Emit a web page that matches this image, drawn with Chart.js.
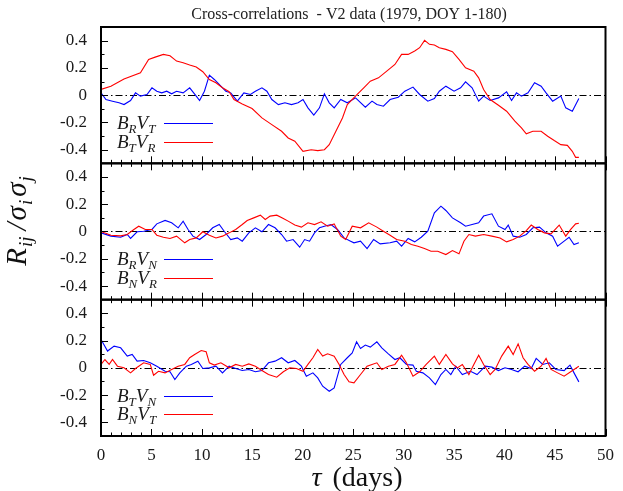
<!DOCTYPE html>
<html lang="en">
<head>
<meta charset="UTF-8">
<title>Cross-correlations - V2 data (1979, DOY 1-180)</title>
<script src="https://cdn.jsdelivr.net/npm/chart.js"></script>
<style>
  html, body { margin: 0; padding: 0; background: #fff; }
  #cc { display: block; }
</style>
</head>
<body>
<canvas id="cc" width="623" height="491"></canvas>
<script>
// lag tau (days), normalised cross-correlation
const brvt = [[0,0.017],[0.49,-0.032],[1.14,-0.044],[1.79,-0.056],[2.28,-0.069],[2.93,-0.039],[3.42,0.017],[3.91,-0.007],[4.56,0.005],[5.05,0.054],[5.53,0.029],[6.02,0.017],[6.51,0.029],[7.0,0.01],[7.49,0.029],[8.14,0.017],[8.79,0.054],[9.44,-0.007],[9.77,-0.039],[10.25,0.029],[10.74,0.147],[11.23,0.115],[11.88,0.066],[12.37,0.029],[12.86,0.017],[13.51,-0.044],[14.16,0.017],[14.81,0.005],[15.3,0.029],[15.95,0.054],[16.44,0.029],[16.93,-0.032],[17.58,-0.069],[18.23,-0.056],[18.88,-0.069],[19.53,-0.056],[20.02,-0.032],[20.51,-0.093],[21.09,-0.147],[21.65,-0.093],[22.14,0.01],[22.62,-0.056],[23.11,-0.093],[23.76,-0.032],[24.41,-0.056],[25.23,-0.02],[26.2,-0.088],[26.86,-0.044],[27.34,-0.069],[27.99,-0.081],[28.65,-0.032],[29.46,-0.015],[30.11,0.029],[30.92,0.059],[31.58,0.005],[32.39,-0.044],[33.04,-0.025],[33.53,0.029],[34.18,0.066],[34.99,0.029],[35.64,0.054],[36.13,0.098],[36.78,0.054],[37.43,-0.044],[37.92,-0.007],[38.57,-0.039],[39.39,-0.02],[40.2,0.025],[40.69,-0.039],[41.18,0.017],[41.67,-0.007],[42.32,0.017],[42.97,0.091],[43.62,0.066],[44.11,0.017],[44.76,-0.044],[45.57,-0.007],[46.06,-0.093],[46.71,-0.118],[47.36,-0.025]];
const btvr = [[0,0.042],[0.98,0.066],[2.28,0.118],[3.91,0.164],[4.72,0.262],[5.37,0.279],[6.18,0.299],[6.84,0.289],[7.49,0.25],[8.14,0.238],[8.79,0.221],[9.44,0.206],[10.09,0.172],[10.74,0.115],[11.39,0.091],[12.04,0.054],[12.7,0.025],[13.18,-0.032],[14.0,-0.064],[14.97,-0.098],[15.95,-0.167],[16.93,-0.216],[17.9,-0.265],[18.55,-0.314],[19.21,-0.338],[20.02,-0.412],[20.83,-0.4],[21.48,-0.407],[22.14,-0.4],[22.62,-0.363],[23.28,-0.265],[23.93,-0.167],[24.41,-0.069],[25.39,0.005],[26.04,0.054],[26.69,0.103],[27.5,0.127],[28.32,0.176],[29.13,0.225],[29.79,0.299],[30.44,0.299],[31.09,0.324],[31.58,0.348],[32.07,0.402],[32.55,0.373],[33.04,0.368],[33.53,0.348],[34.18,0.336],[34.83,0.319],[35.48,0.262],[36.13,0.201],[36.95,0.176],[37.43,0.127],[37.92,0.042],[38.57,-0.032],[39.39,-0.074],[40.2,-0.118],[41.02,-0.191],[41.67,-0.24],[42.15,-0.284],[42.8,-0.265],[43.62,-0.265],[44.27,-0.301],[44.92,-0.333],[45.57,-0.363],[46.22,-0.368],[46.71,-0.412],[47.04,-0.456],[47.36,-0.456]];
const brvn = [[0,-0.01],[0.98,-0.034],[1.95,-0.042],[2.6,-0.022],[2.93,-0.051],[3.58,-0.002],[4.23,0.002],[5.05,0.015],[5.53,0.056],[6.35,0.081],[7.0,0.064],[7.65,0.027],[8.14,0.076],[8.63,0.015],[9.11,-0.034],[9.77,-0.059],[10.42,-0.022],[11.07,0.027],[11.72,0.051],[12.21,0.002],[12.86,-0.059],[13.51,-0.047],[14.0,-0.071],[14.65,-0.01],[15.3,0.027],[15.95,-0.002],[16.6,0.051],[17.25,0.027],[17.9,-0.022],[18.39,-0.071],[19.04,-0.059],[19.69,-0.115],[20.18,-0.059],[20.67,-0.071],[21.16,-0.01],[21.65,0.027],[22.14,0.039],[22.79,0.051],[23.44,0.015],[24.09,-0.047],[24.74,-0.071],[25.07,-0.083],[25.72,-0.071],[26.37,-0.125],[27.02,-0.059],[27.67,-0.091],[28.65,-0.083],[29.3,-0.071],[29.79,-0.108],[30.44,-0.051],[31.09,-0.076],[31.74,-0.042],[32.39,0.002],[33.04,0.137],[33.69,0.186],[34.18,0.154],[34.83,0.1],[35.64,0.064],[36.13,0.039],[36.78,0.051],[37.43,0.064],[37.92,0.113],[38.74,0.13],[39.39,0.039],[40.04,0.015],[40.36,0.047],[40.85,-0.034],[41.5,-0.042],[42.15,-0.022],[42.8,0.027],[43.46,0.032],[44.11,-0.01],[44.76,-0.034],[45.25,-0.108],[45.9,-0.071],[46.39,-0.042],[46.88,-0.096],[47.36,-0.083]];
const bnvr = [[0,0],[0.98,-0.027],[1.95,-0.032],[2.6,-0.022],[3.26,0.015],[3.74,0.039],[4.39,0.015],[5.05,0.015],[5.53,-0.027],[6.18,-0.042],[6.84,-0.051],[7.49,-0.034],[8.3,-0.083],[8.79,-0.059],[9.44,-0.047],[10.09,-0.002],[10.74,-0.027],[11.39,-0.047],[12.04,-0.034],[12.7,-0.01],[13.35,0.015],[14.0,0.051],[14.49,0.081],[15.14,0.1],[15.79,0.12],[16.28,0.088],[16.76,0.113],[17.42,0.12],[18.07,0.096],[18.55,0.076],[19.21,0.047],[19.86,0.032],[20.51,0.064],[21.16,0.051],[21.81,0.071],[22.46,0.039],[23.11,0.056],[23.76,-0.034],[24.25,-0.059],[24.9,0.039],[25.72,0.027],[26.53,0.064],[27.34,0.032],[27.99,0.002],[28.65,-0.027],[29.3,-0.059],[30.11,-0.071],[30.76,-0.096],[31.41,-0.108],[32.06,-0.125],[32.71,-0.145],[33.37,-0.145],[34.18,-0.169],[34.83,-0.14],[35.48,-0.164],[35.97,-0.071],[36.46,-0.022],[37.11,-0.034],[37.92,-0.022],[38.74,-0.034],[39.55,-0.047],[40.2,-0.076],[40.85,-0.059],[41.5,-0.034],[42.15,0.007],[42.64,0.047],[43.29,0.015],[43.95,-0.01],[44.6,-0.017],[45.41,0.047],[46.06,-0.034],[46.55,0.015],[47.04,0.056],[47.36,0.061]];
const btvn = [[0,0.208],[0.65,0.123],[1.3,0.159],[1.95,0.147],[2.6,0.086],[3.09,0.098],[3.58,0.049],[4.23,0.054],[4.88,0.037],[5.53,0.012],[6.35,-0.025],[6.84,-0.029],[7.32,-0.086],[7.81,-0.037],[8.46,0.012],[8.95,0.025],[9.6,0.049],[10.09,-0.005],[10.74,0],[11.39,0.012],[12.04,-0.037],[12.7,0.012],[13.35,-0.005],[14.0,-0.02],[14.65,-0.012],[15.3,-0.029],[15.95,-0.02],[16.6,0.037],[17.25,0.049],[17.9,0.074],[18.55,0.037],[19.21,0.054],[19.86,0.012],[20.35,-0.061],[21.0,-0.037],[21.48,-0.074],[21.97,-0.135],[22.62,-0.172],[23.11,-0.147],[23.76,0.025],[24.41,0.074],[24.9,0.11],[25.33,0.191],[25.72,0.142],[26.2,0.167],[26.69,0.152],[27.34,0.191],[27.83,0.147],[28.48,0.103],[29.13,0.061],[29.62,0.074],[30.27,0.025],[30.92,0.02],[31.25,-0.025],[31.9,-0.037],[32.55,-0.074],[33.14,-0.123],[33.69,-0.049],[34.18,-0.012],[34.67,-0.049],[35.16,0.012],[35.81,-0.049],[36.62,-0.025],[37.27,-0.049],[38.09,0.012],[38.74,0.005],[39.39,-0.02],[40.04,0],[40.69,-0.012],[41.34,-0.029],[41.99,0.012],[42.64,-0.005],[43.13,0.069],[43.78,0.025],[44.43,0.037],[45.08,-0.012],[45.9,-0.02],[46.48,0.02],[46.88,-0.037],[47.36,-0.103]];
const bnvt = [[0,0.025],[0.39,0.061],[0.81,0.025],[1.14,0.061],[1.63,0.012],[2.28,0],[2.93,-0.037],[3.42,-0.005],[4.23,0.037],[4.88,0.025],[5.21,-0.054],[5.7,-0.025],[6.35,-0.037],[7.0,-0.012],[7.65,0.012],[8.3,0.025],[8.79,0.074],[9.28,0.098],[9.93,0.127],[10.42,0.118],[10.74,0.037],[11.23,0.02],[11.88,0.037],[12.7,0],[13.35,0.025],[14.0,0.012],[14.65,0.029],[15.3,0.012],[15.95,-0.02],[16.6,-0.049],[17.42,-0.069],[18.07,-0.029],[18.72,0],[19.37,-0.005],[20.02,-0.025],[20.51,0.025],[21.0,0.074],[21.48,0.135],[21.97,0.086],[22.46,0.103],[23.11,0.086],[23.6,0.025],[24.09,-0.049],[24.58,-0.103],[25.07,-0.11],[25.72,-0.049],[26.37,0.012],[26.86,0.025],[27.34,0.037],[27.83,-0.012],[28.48,0.012],[29.13,0.025],[29.79,0.093],[30.27,0.037],[30.92,-0.061],[31.58,-0.029],[32.23,0.025],[33.04,0.086],[33.53,0.025],[34.18,0.098],[34.83,0.029],[35.32,0],[35.81,0.025],[36.46,-0.049],[36.95,0.025],[37.43,0.093],[37.92,0.025],[38.57,-0.049],[39.06,-0.012],[39.71,0.086],[40.36,0.159],[40.85,0.098],[41.34,0.176],[41.83,0.074],[42.32,0.025],[42.97,-0.025],[43.62,0.012],[44.11,0.069],[44.6,-0.012],[45.25,-0.037],[45.9,-0.061],[46.55,-0.029],[47.36,0.012]];

// subscripts of B and V for each panel's two curves (blue, red)
const panelSubs = [['RT', 'TR'], ['RN', 'NR'], ['TN', 'NT']];
const panelSeries = [[brvt, btvr], [brvn, bnvr], [btvn, bnvt]];
const xTicks = [0, 5, 10, 15, 20, 25, 30, 35, 40, 45, 50];
const yTicks = [-0.4, -0.2, 0, 0.2, 0.4];

const titleText = 'Cross-correlations  - V2 data (1979, DOY 1-180)';
const serif = "'Liberation Serif', 'DejaVu Serif', serif";
const colors = ['#0000ff', '#ff0000'];
const axisIds = ['y1', 'y2', 'y3'];

const datasets = [];
panelSeries.forEach((pair, p) => {
    pair.forEach((series, k) => {
        datasets.push({
            label: 'B' + panelSubs[p][k][0] + 'V' + panelSubs[p][k][1],
            data: series.map(d => ({x: d[0], y: d[1]})),
            yAxisID: axisIds[p],
            borderColor: colors[k],
            borderWidth: 1.1,
            pointRadius: 0,
            tension: 0,
            order: k === 1 ? 0 : 1
        });
    });
});

function panelScale(weight) {
    return {
        type: 'linear',
        position: 'left',
        stack: 'panels',
        stackWeight: 1,
        weight: weight,
        min: -0.5,
        max: 0.5,
        grid: {display: false, drawTicks: false},
        border: {display: false},
        afterBuildTicks: s => { s.ticks = yTicks.map(v => ({value: v})); },
        afterFit: s => { s.width = 101; },
        ticks: {
            padding: 14,
            autoSkip: false,
            color: '#1a1a1a',
            font: {family: serif, size: 17},
            callback: v => String(v)
        }
    };
}

// text pieces [text, font, dy, extra advance] drawn one after another
function richWidth(ctx, parts) {
    let w = 0;
    for (const [t, font, dy, gap] of parts) { ctx.font = font; w += ctx.measureText(t).width + (gap || 0); }
    return w;
}
function drawRich(ctx, parts, x, y) {
    for (const [t, font, dy, gap] of parts) {
        ctx.font = font;
        ctx.fillText(t, x, y + dy);
        x += ctx.measureText(t).width + (gap || 0);
    }
    return x;
}

const decorations = {
    id: 'decorations',
    beforeDatasetsDraw(chart) {
        const ctx = chart.ctx, ca = chart.chartArea;
        ctx.save();
        ctx.strokeStyle = '#000';
        ctx.lineWidth = 1;
        ctx.setLineDash([7, 3, 1.5, 3]);
        axisIds.forEach(id => {
            const y = Math.round(chart.scales[id].getPixelForValue(0)) + 0.5;
            ctx.beginPath();
            ctx.moveTo(ca.left, y);
            ctx.lineTo(ca.right, y);
            ctx.stroke();
        });
        ctx.restore();
    },
    afterDatasetsDraw(chart) {
        const ctx = chart.ctx, ca = chart.chartArea, xs = chart.scales.x;
        ctx.save();
        ctx.strokeStyle = '#000';
        ctx.fillStyle = '#000';

        axisIds.forEach((id, p) => {
            const s = chart.scales[id];
            // tick marks, pointing into the panel
            ctx.lineWidth = 1;
            ctx.beginPath();
            for (let v = 0; v <= 50; v++) {
                const x = Math.round(xs.getPixelForValue(v)) + 0.5;
                const len = v % 5 === 0 ? 7 : 3.5;
                ctx.moveTo(x, s.bottom);
                ctx.lineTo(x, s.bottom - len);
                if (p > 0) {
                    ctx.moveTo(x, s.top);
                    ctx.lineTo(x, s.top + len);
                }
            }
            for (let i = -4; i <= 4; i++) {
                const y = Math.round(s.getPixelForValue(i / 10)) + 0.5;
                const len = i % 2 === 0 ? 7 : 3.5;
                ctx.moveTo(ca.left, y);
                ctx.lineTo(ca.left + len, y);
            }
            ctx.stroke();

            // panel frame
            ctx.lineWidth = 2;
            ctx.strokeRect(ca.left, s.top, ca.right - ca.left, s.bottom - s.top);

            // legend
            [-0.205, -0.342].forEach((row, k) => {
                const y = Math.round(s.getPixelForValue(row)) + 0.5;
                const sub = panelSubs[p][k];
                ctx.fillStyle = '#1a1a1a';
                drawRich(ctx, [
                    ['B', 'italic 19px ' + serif, 0],
                    [sub[0], 'italic 13px ' + serif, 4],
                    ['V', 'italic 19px ' + serif, 0],
                    [sub[1], 'italic 13px ' + serif, 4]
                ], 117, y + 5);
                ctx.strokeStyle = colors[k];
                ctx.lineWidth = 1.1;
                ctx.beginPath();
                ctx.moveTo(164, y);
                ctx.lineTo(213, y);
                ctx.stroke();
                ctx.strokeStyle = '#000';
            });
        });

        // title
        ctx.fillStyle = '#222';
        ctx.font = '16px ' + serif;
        ctx.textAlign = 'center';
        ctx.fillText(titleText, 349, 19);
        ctx.textAlign = 'left';

        // x axis title
        ctx.fillStyle = '#111';
        const xParts = [['\u03c4', 'italic 28px ' + serif, 0, 4], [' (days)', '28px ' + serif, 0]];
        drawRich(ctx, xParts, 357 - richWidth(ctx, xParts) / 2, 486);

        // y axis title
        const yParts = [
            ['R', 'italic 29px ' + serif, 0, 1],
            ['ij', 'italic 19px ' + serif, 6, 6],
            ['/', 'italic 29px ' + serif, 0, 2],
            ['\u03c3', 'italic 29px ' + serif, 0, 1],
            ['i', 'italic 19px ' + serif, 6, 3],
            ['\u03c3', 'italic 29px ' + serif, 0, 1],
            ['j', 'italic 19px ' + serif, 6]
        ];
        ctx.translate(26, 221);
        ctx.rotate(-Math.PI / 2);
        drawRich(ctx, yParts, -richWidth(ctx, yParts) / 2, 0);
        ctx.restore();
    }
};

new Chart(document.getElementById('cc'), {
    type: 'line',
    data: {datasets: datasets},
    options: {
        responsive: false,
        animation: false,
        layout: {padding: {top: 27, right: 11, left: 0, bottom: 0}},
        plugins: {legend: {display: false}, title: {display: false}, tooltip: {enabled: false}},
        scales: {
            x: {
                type: 'linear',
                min: 0,
                max: 50,
                grid: {display: false, drawTicks: false},
                border: {display: false},
                afterBuildTicks: s => { s.ticks = xTicks.map(v => ({value: v})); },
                afterFit: s => { s.height = 55; },
                ticks: {
                    padding: 9,
                    maxRotation: 0,
                    autoSkip: false,
                    color: '#1a1a1a',
                    font: {family: serif, size: 17}
                }
            },
            y1: panelScale(3),
            y2: panelScale(2),
            y3: panelScale(1)
        }
    },
    plugins: [decorations]
});
</script>
</body>
</html>
